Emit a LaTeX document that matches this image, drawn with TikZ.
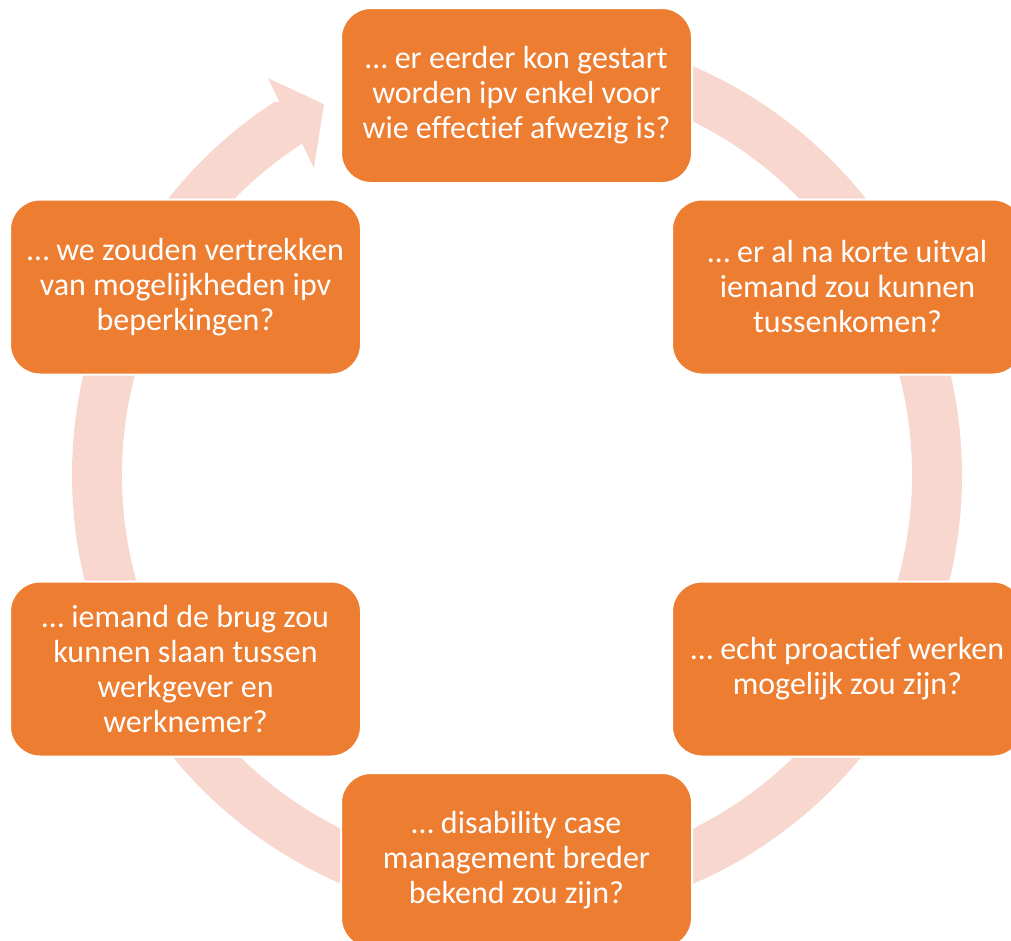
\documentclass[tikz,border=0pt]{standalone}
\usepackage{fontspec}
\setmainfont[Ligatures=NoCommon]{Carlito}
\definecolor{boxorange}{HTML}{ED7D31}
\definecolor{ringpink}{HTML}{F8D8CE}
\begin{document}
\begin{tikzpicture}[x=1pt,y=-1pt,
  qbox/.style={fill=boxorange, draw=white, line width=2pt, rounded corners=30pt,
    minimum width=351pt, minimum height=175pt, inner sep=0pt,
    text=white, align=center, font=\fontsize{32}{35}\selectfont}]
\useasboundingbox (0,0) rectangle (1011,940);
\clip (0,0) rectangle (1011,940);
% ring arrow
\begin{scope}[shift={(517,475)}, yscale=-1]
\fill[ringpink] (95:445) arc[start angle=95, end angle=-237, radius=445]
  -- (122.5:442.5) -- (122.1:468.6) -- (117.5:418) -- (123.5:368) -- (123:392.5)
  -- (-237:395) arc[start angle=-237, end angle=95, radius=395] -- cycle;
\end{scope}
\node[qbox] (q1) at (516.5,95.5) {… er eerder kon gestart\\worden ipv enkel voor\\wie effectief afwezig is?};
\node[qbox] (q2) at (847.5,287) {… er al na korte uitval\\iemand zou kunnen\\tussenkomen?};
\node[qbox] (q3) at (847.5,669) {… echt proactief werken\\mogelijk zou zijn?};
\node[qbox] (q4) at (516.5,860.5) {… disability case\\management breder\\bekend zou zijn?};
\node[qbox] (q5) at (185.5,669) {… iemand de brug zou\\kunnen slaan tussen\\werkgever en\\werknemer?};
\node[qbox] (q6) at (185.5,287) {… we zouden vertrekken\\van mogelijkheden ipv\\beperkingen?};
\end{tikzpicture}
\end{document}
